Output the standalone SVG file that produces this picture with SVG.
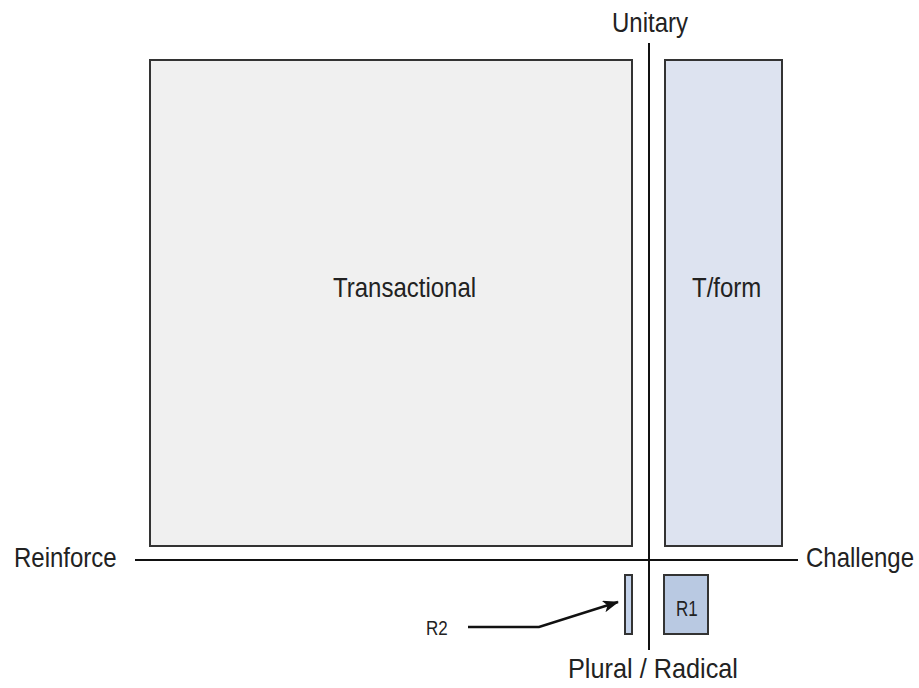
<svg xmlns="http://www.w3.org/2000/svg" width="919" height="688" viewBox="0 0 919 688">
  <style>
    text { font-family: "Liberation Sans", Arial, sans-serif; fill: #222; }
    .lbl { font-size: 24px; }
    .small { font-size: 17px; }
    .box { stroke: #333; stroke-width: 2; }
    .axis { stroke: #111; stroke-width: 2; fill: none; }
    .lead { stroke: #111; stroke-width: 2.5; fill: none; }
  </style>
  <defs>
    <marker id="arrowhead" viewBox="0 0 16 12" refX="15" refY="6" markerWidth="16" markerHeight="12" markerUnits="userSpaceOnUse" orient="auto">
      <path d="M0,0 L16,6 L0,12 L4,6 z" fill="#111"/>
    </marker>
  </defs>
  <rect width="919" height="688" fill="#ffffff"/>

  <!-- labels use a tall, narrow face: glyphs are stretched vertically -->
  <g id="transactional">
    <rect class="box" x="150" y="60" width="482" height="486" fill="#f0f0f0"/>
    <text class="lbl" transform="translate(333,297) scale(1,1.19)">Transactional</text>
  </g>

  <g id="tform">
    <rect class="box" x="665" y="60" width="117" height="486" fill="#dde3f0"/>
    <text class="lbl" transform="translate(692,297) scale(1,1.19)">T/form</text>
  </g>

  <g id="r1">
    <rect class="box" x="664" y="575" width="44" height="59" fill="#b9c9e2"/>
    <text class="small" transform="translate(676,616) scale(1,1.25)">R1</text>
  </g>

  <g id="r2">
    <rect class="box" x="625" y="575" width="7" height="59" fill="#c3d2ea"/>
    <text class="small" transform="translate(426,635) scale(1,1.15)">R2</text>
  </g>

  <g id="axes">
    <line class="axis" x1="649" y1="43" x2="649" y2="650"/>
    <line class="axis" x1="135" y1="560" x2="798" y2="560"/>
    <text class="lbl" transform="translate(612,32) scale(1,1.19)">Unitary</text>
    <text class="lbl" transform="translate(568,678) scale(1,1.19)" textLength="170" lengthAdjust="spacingAndGlyphs">Plural / Radical</text>
    <text class="lbl" transform="translate(14,567) scale(1,1.19)">Reinforce</text>
    <text class="lbl" transform="translate(806,567) scale(1,1.19)">Challenge</text>
  </g>

  <g id="connectors">
    <polyline class="lead" points="468,627 539,627 618,602" marker-end="url(#arrowhead)"/>
  </g>
</svg>
